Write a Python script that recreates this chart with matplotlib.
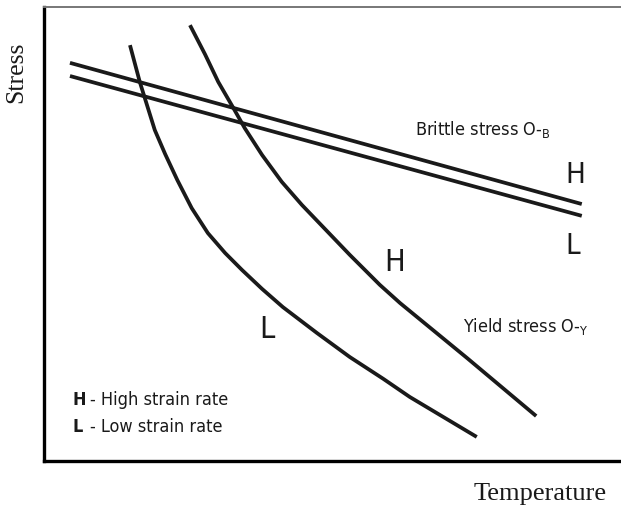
import matplotlib

matplotlib.use("Agg")

import matplotlib.pyplot as plt

SANS = ["DejaVu Sans"]
SERIF = ["Liberation Serif", "DejaVu Serif"]

# brittle stress lines (temperature, stress), arbitrary 0-100 units
brittle_x = [4.5, 93.2]
brittle_high = [87.7, 56.6]
brittle_low = [84.8, 54.0]

# yield stress curves
yield_low_x = [14.9, 16.6, 17.9, 19.2, 21.0, 23.1, 25.6, 28.4, 31.4, 34.3, 37.8, 41.4, 47.3, 53.0, 58.8, 63.4, 75.0]
yield_low_y = [91.6, 83.5, 78.2, 72.9, 67.6, 61.9, 55.7, 50.2, 45.8, 42.1, 37.9, 33.9, 28.2, 22.9, 18.1, 14.1, 5.3]
yield_high_x = [25.3, 27.9, 30.2, 32.8, 34.8, 37.8, 41.2, 44.7, 48.7, 53.0, 58.2, 61.7, 73.3, 85.3]
yield_high_y = [96.0, 89.6, 83.5, 77.8, 73.3, 67.4, 61.5, 56.4, 51.1, 45.4, 38.8, 34.8, 22.7, 9.9]

fig = plt.figure(figsize=(6.21, 5.08), dpi=100)
ax = fig.add_axes([44 / 621, 47 / 508, 577 / 621, 454 / 508])
ax.set_xlim(0, 100)
ax.set_ylim(0, 100)
ax.set_xticks([])
ax.set_yticks([])

line_kw = dict(color="#1a1a1a", linewidth=2.7, solid_capstyle="butt", solid_joinstyle="round")
ax.plot(brittle_x, brittle_high, **line_kw)
ax.plot(brittle_x, brittle_low, **line_kw)
ax.plot(yield_low_x, yield_low_y, **line_kw)
ax.plot(yield_high_x, yield_high_y, **line_kw)

for side in ("left", "bottom"):
    ax.spines[side].set_linewidth(2.4)
    ax.spines[side].set_color("black")
ax.spines["top"].set_linewidth(1.4)
ax.spines["top"].set_color("#777777")
ax.spines["right"].set_visible(False)

txt = dict(family=SANS, fontstretch="condensed", color="#1a1a1a")
ax.text(64.3, 71.8, r"Brittle stress O-$_\mathregular{B}$", fontsize=13, va="baseline", **txt)
ax.text(72.6, 28.4, r"Yield stress O-$_\mathregular{Y}$", fontsize=13, va="baseline", **txt)
ax.text(92.0, 62.9, "H", fontsize=21, ha="center", va="center", **txt)
ax.text(91.7, 47.4, "L", fontsize=21, ha="center", va="center", **txt)
ax.text(60.8, 43.8, "H", fontsize=22, ha="center", va="center", **txt)
ax.text(38.6, 28.9, "L", fontsize=22, ha="center", va="center", **txt)

ax.text(4.9, 12.3, "H", fontsize=13, fontweight="bold", va="baseline", **txt)
ax.text(7.9, 12.3, "- High strain rate", fontsize=13, va="baseline", **txt)
ax.text(4.9, 6.4, "L", fontsize=13, fontweight="bold", va="baseline", **txt)
ax.text(7.9, 6.4, "- Low strain rate", fontsize=13, va="baseline", **txt)

fig.text(16 / 621, 1 - 72 / 508, "Stress", family=SERIF, fontsize=18.5,
         rotation=90, ha="center", va="center", color="#1a1a1a")
fig.text(540 / 621, 1 - 500 / 508, "Temperature", family=SERIF, fontsize=19,
         ha="center", va="baseline", color="#1a1a1a")

fig.savefig("out.png", dpi=100)
